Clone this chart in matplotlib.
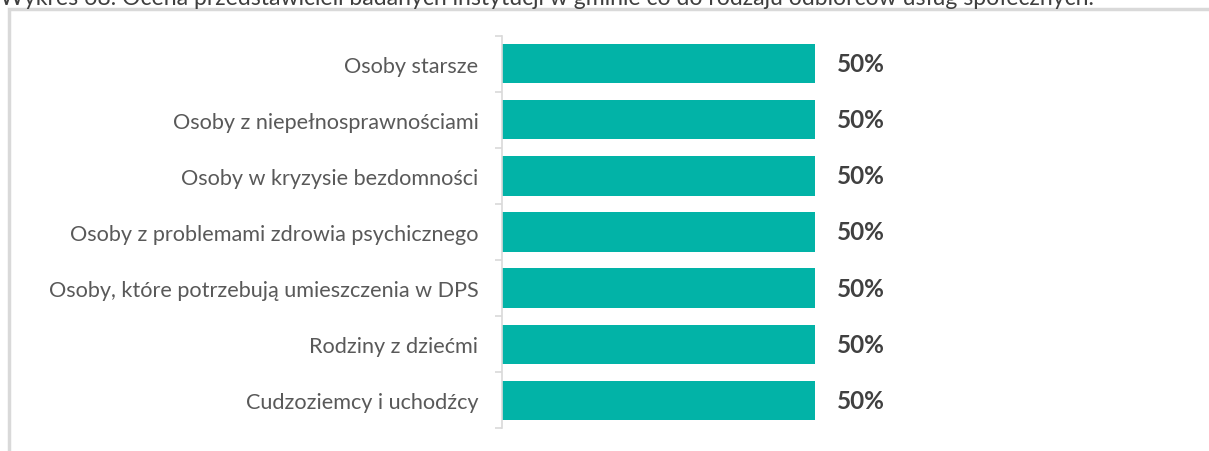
import matplotlib.pyplot as plt
from matplotlib.patches import Rectangle

categories = [
    "Osoby starsze",
    "Osoby z niepełnosprawnościami",
    "Osoby w kryzysie bezdomności",
    "Osoby z problemami zdrowia psychicznego",
    "Osoby, które potrzebują umieszczenia w DPS",
    "Rodziny z dziećmi",
    "Cudzoziemcy i uchodźcy",
]
values = [50, 50, 50, 50, 50, 50, 50]
title = ("Wykres 68. Ocena przedstawicieli badanych instytucji w gminie "
         "co do rodzaju odbiorców usług społecznych.")

W, H = 1209, 452
BAR = "#02B3A7"
GRID = "#D9D9D9"

plt.rcParams['font.family'] = ['Lato', 'DejaVu Sans']

fig = plt.figure(figsize=(W / 100, H / 100), dpi=100)

# outer frame (only top and left edges fall inside the image)
fig.patches.append(Rectangle((9 / W, -0.1), 1.2, (H - 10) / H + 0.1,
                             transform=fig.transFigure, fill=False,
                             edgecolor=GRID, linewidth=2.5))
fig.text(0, 1 - 5 / H, title, ha='left', va='baseline', fontsize=16.6,
         color='#3F3F3F')

xmax = 60
left, top, bottom = 502, 36.7, 429.3
ax = fig.add_axes([left / W, (H - bottom) / H,
                   (313 / 50 * xmax) / W, (bottom - top) / H])

pos = list(range(len(categories)))
ax.barh(pos, values, height=0.70, color=BAR)
for p, v in zip(pos, values):
    ax.annotate(f"{v}%", (v, p), xytext=(16, 0), textcoords='offset points',
                ha='left', va='center', fontsize=17.5, fontweight='bold',
                color='#404040')

ax.set_xlim(0, xmax)
ax.set_ylim(len(categories) - 0.5, -0.5)
ax.set_yticks(pos)
ax.set_yticklabels(categories, fontsize=15.6, color='#595959')
ax.set_yticks([p - 0.5 for p in pos] + [len(pos) - 0.5], minor=True)
ax.tick_params(axis='y', which='major', length=0, pad=17)
ax.tick_params(axis='y', which='minor', length=5, width=1.2, color=GRID)
ax.set_xticks([])
for s in ['top', 'right', 'bottom']:
    ax.spines[s].set_visible(False)
ax.spines['left'].set_color(GRID)
ax.spines['left'].set_linewidth(1.2)
ax.patch.set_alpha(0)

fig.savefig("out.png", dpi=100)
